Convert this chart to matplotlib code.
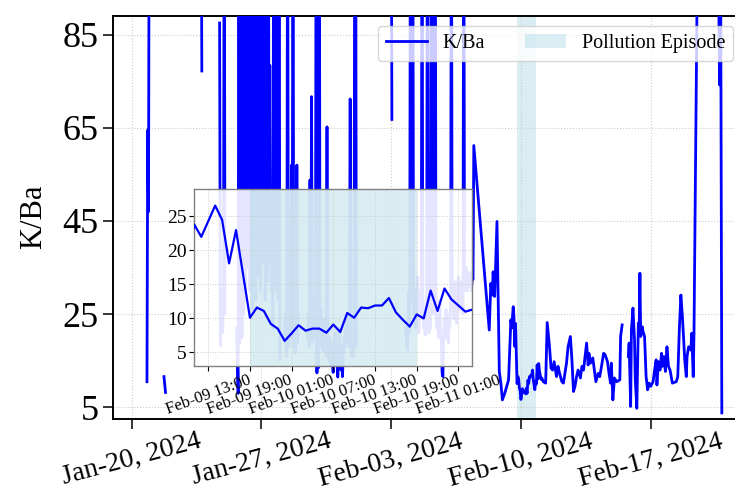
"""K/Ba hourly ratio with pollution-episode inset."""

import matplotlib

matplotlib.use("Agg")
import matplotlib.dates as mdates
import matplotlib.pyplot as plt
import numpy as np
import pandas as pd

plt.rcParams["font.family"] = ["Liberation Serif", "DejaVu Serif"]

START = pd.Timestamp("2024-01-20 00:00")
nan = np.nan

# bursts of hourly data separated by gaps: first hour after START, then values
# (values above ~89 run off the top of the axes)
runs_start = [20, 42, 90, 114, 136, 198, 228, 335, 355]
runs_kba = [
    [10.5, 64.5, 47, 130],
    [11.6, 10.0, 8.2],
    [130, 77.2],
    [87.5, 18.3, 24, 30, 21, 27, 130, 25.3],
    [22, 15, 8.0, 130, 18.8, 140, 70.6, 20, 130, 25, 140, 28, 130, 35, 135, 58.8,
     140, 30, 130, 40, 140, 26, 130, 30, 35, 28, 130, 40, 33, 55.2, 140, 30, 130,
     45, 140, 36, 130, 28, 135, 40, 32, 140, 45, 78.4, 38, 30, 34, 22, 130, 35,
     140, 30, 130, 34.8, 28, 140, 15.2],
    [20, 25, 18, 16, 130, 22, 18, 30, 20, 57, 25, 130, 18, 20, 16.7, 22, 57, 18.8, 25],
    [20, 25, 18, 53.8, 22, 71.7, 19, 24, 20, 28, 22, 130, 12.4, 140, 13.5, 130, 20,
     26, 18, 22, 17, 24, 19, 21, 16, 65.2, 18, 15, 20, 17, 14, 19, 15, 12.5, 18, 16,
     21, 14, 17, 11.5, 19, 22, 15, 13, 18, 11.6, 16, 20, 18, 22, 19, 25, 21, 18, 24,
     71.2, 20, 16, 18, 15.9, 20, 130, 140, 18],
    [140, 130, 66.8],
    [22, 19, 17.3, 24, 30, 21, 130, 140, 28, 130, 25, 30, 26, 22, 28, 33, 25, 21, 27,
     30, 24, 130, 27, 22, 25, 20.5, 26, 30, 130, 24, 21, 28, 22, 130, 40.9, 135, 25,
     130, 140, 30, 22, 26, 20, 24, 28, 22, 18.8, 12.4, 11.6, 20, 24, 21, 26, 19.9, 23,
     18.8, 25, 22, 28, 130, 26, 30, 24, 28, 32, 27, 23, 29, 33, 26, 30, 27, 32, 29, 25,
     130, 33, 30, 35, 32.3, 30, 33, 31, 34, 32, 30, 33, 32.5],
]

# run-up to the episode (hours after START)
pre_hour = [443, 463, 465, 467, 468, 470, 473, 476, 478, 480, 483, 488]
pre_kba = [61.2, 21.6, 31.6, 29.1, 34.1, 28.8, 44.9, 12.7, 10.2, 6.6, 8.0, 10.9]

# hourly values shown in the inset, from 2024-02-09 11:00
episode_first = "2024-02-09 11:00"
episode_kba = [23.8, 22.0, 24.3, 26.6, 24.5, 18.1, 23.0, 16.6, 10.1, 11.6, 11.1, 9.2,
               8.5, 6.7, 7.8, 9.0, 8.2, 8.5, 8.5, 7.9, 9.1, 8.0, 10.8, 10.1, 11.6,
               11.5, 11.9, 11.9, 13.0, 10.9, 9.8, 8.8, 10.6, 10.0, 14.1, 11.1, 14.4,
               12.8, 11.9, 11.0, 11.3]

# after the episode (hours after START)
post_hour = [533, 536, 538, 541, 543, 545, 547, 550, 552, 554, 557, 559, 561, 563,
             565, 568, 570, 572, 574, 576, 578, 581, 583, 585, 587, 589, 591, 592,
             594, 597, 599, 601, 604, 606, 609, 611, 613, 616, 618, 620, 621, 623,
             625, 628, 632, 633, 635, 636, 643, 644, 646, 647, 649, 651, 652, 654,
             656, 657, 658, 659, 661, 662, 664, 666, 668, 670, 672, 675, 677, 679,
             680, 682, 684, 686, 687, 689, 691, 693, 695, 697, 700, 705, 707, 709,
             711, 713, 716, 718, 719, 721, 724, 725, 727, 728, 734, 740, 750, 758,
             761, 762, 764]
post_kba = [10.5, 10.2, 23.2, 18.0, 13.4, 13.0, 14.8, 11.6, 13.8, 12.3, 10.5, 10.2,
            12.3, 14.5, 18.0, 20.2, 15.2, 8.4, 9.5, 11.6, 13.0, 11.3, 13.8, 13.0,
            15.9, 18.8, 14.1, 16.6, 14.5, 15.6, 13.0, 10.5, 12.3, 11.6, 14.5, 16.6,
            16.3, 14.8, 12.3, 10.2, 14.5, 6.6, 11.3, 10.5, 10.9, 20.2, 22.7, nan,
            15.9, 18.8, 5.2, 21.6, 26.3, 19.5, 10.9, 4.8, 23.1, 20.9, 33.8, 20.2,
            22.3, 21.3, 20.2, 11.6, 8.75, 10.2, 9.5, 10.5, 13.0, 15.2, 9.8, 14.8,
            13.0, 16.6, 13.8, 15.9, 12.7, 18.0, 13.8, 13.0, 10.2, 10.5, 11.6, 21.6,
            29.1, 24.5, 15.2, 11.6, 15.9, 18.0, 17.3, 20.9, 11.6, 21.0, 130, 140,
            130, 135, 74.2, 130, 3.8]

episode = ("2024-02-09 19:00", "2024-02-10 19:00")
inset_window = ("2024-02-09 11:00", "2024-02-11 03:00")
x_range = ("2024-01-19", "2024-02-22")
xticks = ["2024-01-20", "2024-01-27", "2024-02-03", "2024-02-10", "2024-02-17"]
yticks = [5, 25, 45, 65, 85]
inset_yticks = [5, 10, 15, 20, 25]


def build_series():
    hours, vals = [], []
    for i, (h0, run) in enumerate(zip(runs_start, runs_kba)):
        if i:
            hours.append(h0 - 0.5)
            vals.append(nan)
        hours.extend(h0 + np.arange(len(run)))
        vals.extend(run)
    hours.extend(pre_hour)
    vals.extend(pre_kba)
    h_ep = (pd.Timestamp(episode_first) - START) / pd.Timedelta(hours=1)
    hours.extend(h_ep + np.arange(len(episode_kba)))
    vals.extend(episode_kba)
    hours.extend(post_hour)
    vals.extend(post_kba)
    times = START + pd.to_timedelta(np.asarray(hours, dtype=float), unit="h")
    return pd.Series(vals, index=times, dtype=float)


series = build_series()

fig = plt.figure(figsize=(7.35, 4.95), dpi=100)
ax = fig.add_axes([0.1537, 0.1545, 0.8578, 0.8141])

ax.plot(series.index, series.values, color="blue", lw=2.0, label="K/Ba", zorder=3)
ax.axvspan(pd.Timestamp(episode[0]), pd.Timestamp(episode[1]), color="lightblue",
           alpha=0.45, lw=0, label="Pollution Episode", zorder=1)

ax.set_xlim(pd.Timestamp(x_range[0]), pd.Timestamp(x_range[1]))
ax.set_ylim(2.6, 89.1)
ax.set_yticks(yticks)
ax.set_xticks(pd.to_datetime(xticks))
ax.xaxis.set_major_formatter(mdates.DateFormatter("%b-%d, %Y"))
for lab in ax.get_xticklabels():
    lab.set_rotation(15)
    lab.set_ha("center")
ax.tick_params(axis="y", labelsize=26, direction="out", length=7.5, width=1.1, pad=3)
ax.tick_params(axis="x", labelsize=20, direction="out", length=7.5, width=1.1, pad=0)
ax.set_ylabel("K/Ba", fontsize=22, labelpad=10)
ax.grid(True, color="#cccccc", linestyle=":", linewidth=0.8)
for side in ax.spines.values():
    side.set_linewidth(1.4)

ax.legend(loc="upper right", ncol=2, fontsize=14.5, framealpha=0.8)

# zoomed view of the episode
ins = fig.add_axes([0.2644, 0.2606, 0.3782, 0.3570])
ins.set_facecolor((1, 1, 1, 0.9))
ins.plot(series.index, series.values, color="blue", lw=1.6, zorder=3)
ins.axvspan(pd.Timestamp(episode[0]), pd.Timestamp(episode[1]), color="lightblue",
            alpha=0.45, lw=0, zorder=1)
ins.set_xlim(pd.Timestamp(inset_window[0]), pd.Timestamp(inset_window[1]))
ins.set_ylim(3, 29)
ins.set_yticks(inset_yticks)
ins.xaxis.set_major_locator(mdates.HourLocator(byhour=[1, 7, 13, 19]))
ins.xaxis.set_major_formatter(mdates.DateFormatter("%b-%d %H:%M"))
for lab in ins.get_xticklabels():
    lab.set_rotation(20)
    lab.set_ha("center")
ins.tick_params(axis="y", labelsize=14, length=3.5, pad=2)
ins.tick_params(axis="x", labelsize=12, length=3.5, pad=1)
ins.grid(True, color="#cccccc", linestyle=":", linewidth=0.7)
for side in ins.spines.values():
    side.set_color("#808080")
    side.set_linewidth(1.0)

fig.savefig("out.png", dpi=100)
